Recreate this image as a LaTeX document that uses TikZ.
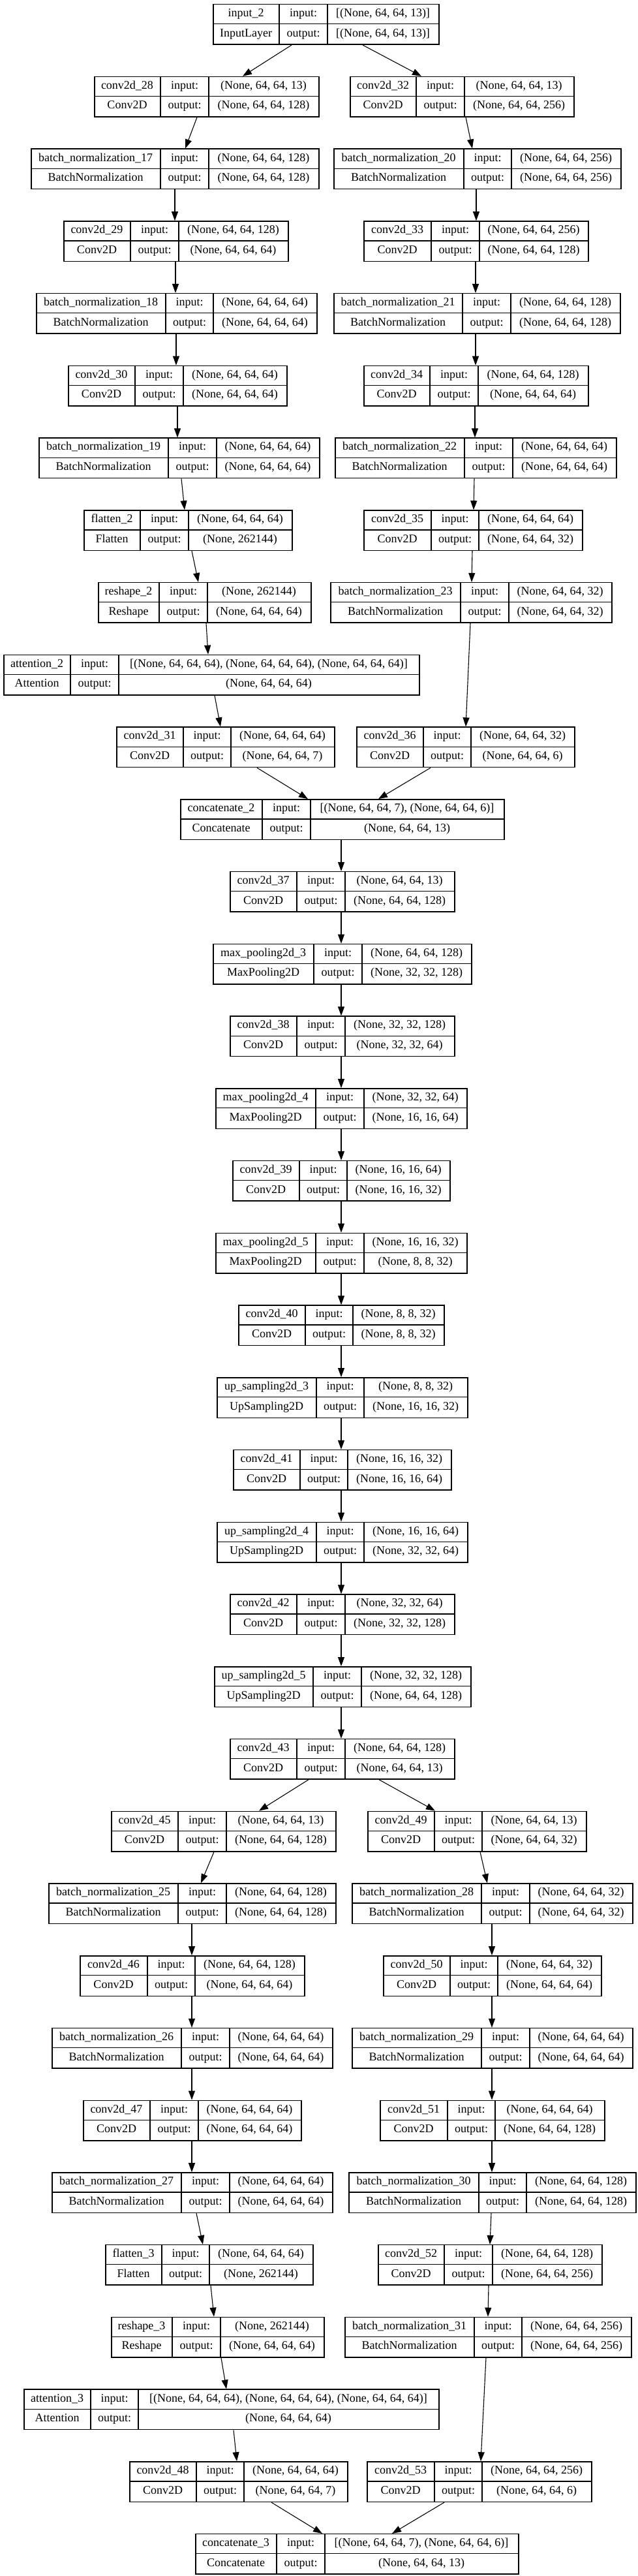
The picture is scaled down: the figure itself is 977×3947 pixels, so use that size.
\documentclass[tikz,border=0pt]{standalone}
\usepackage{fontspec}
\setmainfont{Liberation Serif}
\usetikzlibrary{arrows.meta}
\tikzset{
    layer_box/.style = {rectangle, draw=black, line width=1.5pt, minimum height=61.5pt, inner sep=0pt, anchor=north west},
    layer_grid/.style = {draw=black, line width=1.2pt},
    layer_text/.style = {inner sep=0pt, text height=12.5pt, text depth=4.2pt, font=\fontsize{18}{20}\selectfont},
    link/.style = {draw=black, line width=1.1pt, -{Triangle[length=14pt, width=10pt]}}
}
% cell borders: left, after name, after in/out label, right
\newcommand{\cells}[4]{\def\cellL{#1}\def\cellA{#2}\def\cellB{#3}\def\cellR{#4}}
% id, row, layer name, layer class, input shape, output shape
\newcommand{\layer}[6]{%
    \pgfmathsetmacro{\rowtop}{6+110.74*#2}
    \pgfmathsetmacro{\boxw}{\cellR-\cellL}
    \node[layer_box, minimum width=\boxw pt] (#1) at (\cellL,\rowtop) {};
    \draw[layer_grid] (\cellA,\rowtop) -- ++(0,61.5) (\cellB,\rowtop) -- ++(0,61.5)
        (\cellL,\rowtop+30.75) -- (\cellR,\rowtop+30.75);
    \node[layer_text] (#1-name) at ({(\cellL+\cellA)/2},{\rowtop+15.4}) {#3};
    \node[layer_text] (#1-class) at ({(\cellL+\cellA)/2},{\rowtop+46.1}) {#4};
    \node[layer_text] (#1-il) at ({(\cellA+\cellB)/2},{\rowtop+15.4}) {input:};
    \node[layer_text] (#1-ol) at ({(\cellA+\cellB)/2},{\rowtop+46.1}) {output:};
    \node[layer_text] (#1-in) at ({(\cellB+\cellR)/2},{\rowtop+15.4}) {#5};
    \node[layer_text] (#1-out) at ({(\cellB+\cellR)/2},{\rowtop+46.1}) {#6};
}
\newcommand{\link}[4]{\draw[link] (#1.south -| #2,0) -- (#3.north -| #4,0);}

\begin{document}
\begin{tikzpicture}[x=1pt, y=-1pt]
    \useasboundingbox (0,0) rectangle (977,3947);

    \cells{326}{428}{502}{672}
    \layer{in2}{0}{input\_2}{InputLayer}{[(None, 64, 64, 13)]}{[(None, 64, 64, 13)]}

    % first encoder, left branch
    \cells{144}{246}{320}{488}
    \layer{c28}{1}{conv2d\_28}{Conv2D}{(None, 64, 64, 13)}{(None, 64, 64, 128)}
    \cells{47}{246}{320}{488}
    \layer{bn17}{2}{batch\_normalization\_17}{BatchNormalization}{(None, 64, 64, 128)}{(None, 64, 64, 128)}
    \cells{97}{200}{274}{441}
    \layer{c29}{3}{conv2d\_29}{Conv2D}{(None, 64, 64, 128)}{(None, 64, 64, 64)}
    \cells{55}{254}{327}{485}
    \layer{bn18}{4}{batch\_normalization\_18}{BatchNormalization}{(None, 64, 64, 64)}{(None, 64, 64, 64)}
    \cells{104}{207}{281}{439}
    \layer{c30}{5}{conv2d\_30}{Conv2D}{(None, 64, 64, 64)}{(None, 64, 64, 64)}
    \cells{59}{258}{332}{489}
    \layer{bn19}{6}{batch\_normalization\_19}{BatchNormalization}{(None, 64, 64, 64)}{(None, 64, 64, 64)}
    \cells{128}{215}{289}{447}
    \layer{fl2}{7}{flatten\_2}{Flatten}{(None, 64, 64, 64)}{(None, 262144)}
    \cells{150}{244}{318}{476}
    \layer{rs2}{8}{reshape\_2}{Reshape}{(None, 262144)}{(None, 64, 64, 64)}
    \cells{5}{108}{182}{642}
    \layer{at2}{9}{attention\_2}{Attention}{[(None, 64, 64, 64), (None, 64, 64, 64), (None, 64, 64, 64)]}{(None, 64, 64, 64)}
    \cells{178}{281}{354}{512}
    \layer{c31}{10}{conv2d\_31}{Conv2D}{(None, 64, 64, 64)}{(None, 64, 64, 7)}

    % first encoder, right branch
    \cells{536}{638}{712}{879}
    \layer{c32}{1}{conv2d\_32}{Conv2D}{(None, 64, 64, 13)}{(None, 64, 64, 256)}
    \cells{511}{711}{784}{951}
    \layer{bn20}{2}{batch\_normalization\_20}{BatchNormalization}{(None, 64, 64, 256)}{(None, 64, 64, 256)}
    \cells{557}{661}{735}{901}
    \layer{c33}{3}{conv2d\_33}{Conv2D}{(None, 64, 64, 256)}{(None, 64, 64, 128)}
    \cells{511}{709}{783}{950}
    \layer{bn21}{4}{batch\_normalization\_21}{BatchNormalization}{(None, 64, 64, 128)}{(None, 64, 64, 128)}
    \cells{557}{659}{733}{901}
    \layer{c34}{5}{conv2d\_34}{Conv2D}{(None, 64, 64, 128)}{(None, 64, 64, 64)}
    \cells{513}{712}{786}{944}
    \layer{bn22}{6}{batch\_normalization\_22}{BatchNormalization}{(None, 64, 64, 64)}{(None, 64, 64, 64)}
    \cells{557}{661}{734}{892}
    \layer{c35}{7}{conv2d\_35}{Conv2D}{(None, 64, 64, 64)}{(None, 64, 64, 32)}
    \cells{506}{706}{780}{937}
    \layer{bn23}{8}{batch\_normalization\_23}{BatchNormalization}{(None, 64, 64, 32)}{(None, 64, 64, 32)}
    \cells{546}{649}{722}{880}
    \layer{c36}{10}{conv2d\_36}{Conv2D}{(None, 64, 64, 32)}{(None, 64, 64, 6)}

    % middle chain
    \cells{276}{402}{476}{772}
    \layer{cat2}{11}{concatenate\_2}{Concatenate}{[(None, 64, 64, 7), (None, 64, 64, 6)]}{(None, 64, 64, 13)}
    \cells{352}{455}{529}{696}
    \layer{c37}{12}{conv2d\_37}{Conv2D}{(None, 64, 64, 13)}{(None, 64, 64, 128)}
    \cells{326}{481}{555}{722}
    \layer{mp3}{13}{max\_pooling2d\_3}{MaxPooling2D}{(None, 64, 64, 128)}{(None, 32, 32, 128)}
    \cells{352}{455}{529}{696}
    \layer{c38}{14}{conv2d\_38}{Conv2D}{(None, 32, 32, 128)}{(None, 32, 32, 64)}
    \cells{330}{484}{558}{715}
    \layer{mp4}{15}{max\_pooling2d\_4}{MaxPooling2D}{(None, 32, 32, 64)}{(None, 16, 16, 64)}
    \cells{356}{459}{532}{689}
    \layer{c39}{16}{conv2d\_39}{Conv2D}{(None, 16, 16, 64)}{(None, 16, 16, 32)}
    \cells{330}{484}{558}{715}
    \layer{mp5}{17}{max\_pooling2d\_5}{MaxPooling2D}{(None, 16, 16, 32)}{(None, 8, 8, 32)}
    \cells{365}{468}{541}{680}
    \layer{c40}{18}{conv2d\_40}{Conv2D}{(None, 8, 8, 32)}{(None, 8, 8, 32)}
    \cells{332}{485}{558}{716}
    \layer{up3}{19}{up\_sampling2d\_3}{UpSampling2D}{(None, 8, 8, 32)}{(None, 16, 16, 32)}
    \cells{357}{460}{533}{691}
    \layer{c41}{20}{conv2d\_41}{Conv2D}{(None, 16, 16, 32)}{(None, 16, 16, 64)}
    \cells{332}{485}{558}{716}
    \layer{up4}{21}{up\_sampling2d\_4}{UpSampling2D}{(None, 16, 16, 64)}{(None, 32, 32, 64)}
    \cells{352}{455}{529}{696}
    \layer{c42}{22}{conv2d\_42}{Conv2D}{(None, 32, 32, 64)}{(None, 32, 32, 128)}
    \cells{328}{480}{554}{721}
    \layer{up5}{23}{up\_sampling2d\_5}{UpSampling2D}{(None, 32, 32, 128)}{(None, 64, 64, 128)}
    \cells{352}{455}{529}{696}
    \layer{c43}{24}{conv2d\_43}{Conv2D}{(None, 64, 64, 128)}{(None, 64, 64, 13)}

    % second encoder, left branch
    \cells{170}{273}{347}{514}
    \layer{c45}{25}{conv2d\_45}{Conv2D}{(None, 64, 64, 13)}{(None, 64, 64, 128)}
    \cells{74}{273}{347}{514}
    \layer{bn25}{26}{batch\_normalization\_25}{BatchNormalization}{(None, 64, 64, 128)}{(None, 64, 64, 128)}
    \cells{122}{226}{299}{466}
    \layer{c46}{27}{conv2d\_46}{Conv2D}{(None, 64, 64, 128)}{(None, 64, 64, 64)}
    \cells{79}{278}{352}{509}
    \layer{bn26}{28}{batch\_normalization\_26}{BatchNormalization}{(None, 64, 64, 64)}{(None, 64, 64, 64)}
    \cells{127}{230}{304}{461}
    \layer{c47}{29}{conv2d\_47}{Conv2D}{(None, 64, 64, 64)}{(None, 64, 64, 64)}
    \cells{79}{278}{352}{509}
    \layer{bn27}{30}{batch\_normalization\_27}{BatchNormalization}{(None, 64, 64, 64)}{(None, 64, 64, 64)}
    \cells{161}{248}{321}{479}
    \layer{fl3}{31}{flatten\_3}{Flatten}{(None, 64, 64, 64)}{(None, 262144)}
    \cells{170}{264}{338}{496}
    \layer{rs3}{32}{reshape\_3}{Reshape}{(None, 262144)}{(None, 64, 64, 64)}
    \cells{36}{139}{212}{672}
    \layer{at3}{33}{attention\_3}{Attention}{[(None, 64, 64, 64), (None, 64, 64, 64), (None, 64, 64, 64)]}{(None, 64, 64, 64)}
    \cells{198}{301}{374}{532}
    \layer{c48}{34}{conv2d\_48}{Conv2D}{(None, 64, 64, 64)}{(None, 64, 64, 7)}

    % second encoder, right branch
    \cells{563}{666}{739}{898}
    \layer{c49}{25}{conv2d\_49}{Conv2D}{(None, 64, 64, 13)}{(None, 64, 64, 32)}
    \cells{539}{738}{812}{969}
    \layer{bn28}{26}{batch\_normalization\_28}{BatchNormalization}{(None, 64, 64, 32)}{(None, 64, 64, 32)}
    \cells{587}{690}{763}{921}
    \layer{c50}{27}{conv2d\_50}{Conv2D}{(None, 64, 64, 32)}{(None, 64, 64, 64)}
    \cells{539}{738}{812}{969}
    \layer{bn29}{28}{batch\_normalization\_29}{BatchNormalization}{(None, 64, 64, 64)}{(None, 64, 64, 64)}
    \cells{582}{686}{759}{926}
    \layer{c51}{29}{conv2d\_51}{Conv2D}{(None, 64, 64, 64)}{(None, 64, 64, 128)}
    \cells{534}{734}{807}{974}
    \layer{bn30}{30}{batch\_normalization\_30}{BatchNormalization}{(None, 64, 64, 128)}{(None, 64, 64, 128)}
    \cells{579}{681}{755}{922}
    \layer{c52}{31}{conv2d\_52}{Conv2D}{(None, 64, 64, 128)}{(None, 64, 64, 256)}
    \cells{528}{727}{800}{967}
    \layer{bn31}{32}{batch\_normalization\_31}{BatchNormalization}{(None, 64, 64, 256)}{(None, 64, 64, 256)}
    \cells{562}{666}{739}{906}
    \layer{c53}{34}{conv2d\_53}{Conv2D}{(None, 64, 64, 256)}{(None, 64, 64, 6)}

    \cells{299}{424}{498}{794}
    \layer{cat3}{35}{concatenate\_3}{Concatenate}{[(None, 64, 64, 7), (None, 64, 64, 6)]}{(None, 64, 64, 13)}

    % connectors
    \link{in2}{447}{c28}{372}
    \link{in2}{556}{c32}{646}
    \link{c28}{302}{bn17}{284}
    \link{bn17}{268}{c29}{268}
    \link{c29}{269}{bn18}{269}
    \link{bn18}{270}{c30}{270}
    \link{c30}{272}{bn19}{272}
    \link{bn19}{278}{fl2}{283}
    \link{fl2}{294}{rs2}{304}
    \link{rs2}{316}{at2}{319}
    \link{at2}{329}{c31}{338}
    \link{c32}{714}{bn20}{724}
    \link{bn20}{730}{c33}{730}
    \link{c33}{729}{bn21}{729}
    \link{bn21}{729}{c34}{729}
    \link{c34}{728}{bn22}{728}
    \link{bn22}{727}{c35}{726}
    \link{c35}{724}{bn23}{723}
    \link{bn23}{721}{c36}{714}
    \link{c31}{394}{cat2}{472}
    \link{c36}{660}{cat2}{580}
    \foreach \a/\b in {cat2/c37, c37/mp3, mp3/c38, c38/mp4, mp4/c39, c39/mp5, mp5/c40,
                       c40/up3, up3/c41, c41/up4, up4/c42, c42/up5, up5/c43}
        \link{\a}{523}{\b}{523};
    \link{c43}{473}{c45}{397}
    \link{c43}{581}{c49}{667}
    \link{c45}{328}{bn25}{308}
    \foreach \a/\b in {bn25/c46, c46/bn26, bn26/c47, c47/bn27}
        \link{\a}{294}{\b}{294};
    \link{bn27}{301}{fl3}{311}
    \link{fl3}{323}{rs3}{328}
    \link{rs3}{339}{at3}{347}
    \link{at3}{358}{c48}{363}
    \link{c49}{736}{bn28}{747}
    \foreach \a/\b in {bn28/c50, c50/bn29, bn29/c51, c51/bn30}
        \link{\a}{754}{\b}{754};
    \link{bn30}{753}{c52}{751}
    \link{c52}{749}{bn31}{748}
    \link{bn31}{745}{c53}{737}
    \link{c48}{416}{cat3}{494}
    \link{c53}{681}{cat3}{601}
\end{tikzpicture}
\end{document}
